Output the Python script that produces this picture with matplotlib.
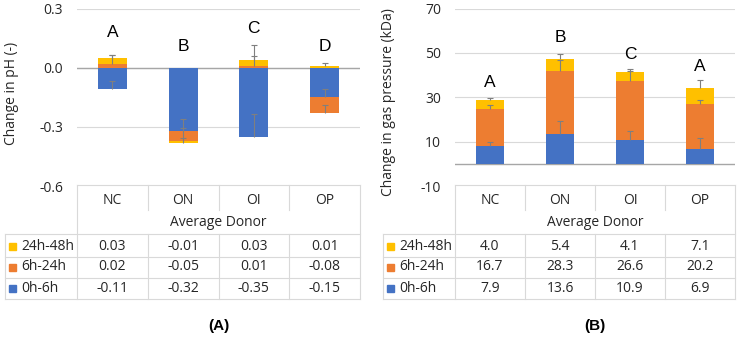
import matplotlib.pyplot as plt
import numpy as np

donors = ["NC", "ON", "OI", "OP"]
periods = ["24h-48h", "6h-24h", "0h-6h"]
period_colors = ["#FFC000", "#ED7D31", "#4472C4"]

# pH change per period (A)
ph_0_6 = [-0.11, -0.32, -0.35, -0.15]
ph_6_24 = [0.02, -0.05, 0.01, -0.08]
ph_24_48 = [0.03, -0.01, 0.03, 0.01]
ph_err_0_6 = [0.044, 0.061, 0.115, 0.043]
ph_err_6_24 = [0.045, 0.065, 0.047, 0.042]
ph_err_24_48 = [0.015, 0.024, 0.075, 0.014]
ph_letters = ["A", "B", "C", "D"]
ph_letter_y = [0.178, 0.107, 0.198, 0.107]

# gas pressure change per period (B)
gas_0_6 = [7.9, 13.6, 10.9, 6.9]
gas_6_24 = [16.7, 28.3, 26.6, 20.2]
gas_24_48 = [4.0, 5.4, 4.1, 7.1]
gas_err_0_6 = [2.1, 5.7, 4.0, 4.9]
gas_err_6_24 = [1.7, 4.8, 4.3, 1.8]
gas_err_24_48 = [0.9, 2.3, 1.3, 3.5]
gas_letters = ["A", "B", "C", "A"]
gas_letter_y = [36.8, 56.8, 49.2, 43.9]

W, H = 738, 337
fig = plt.figure(figsize=(W / 100, H / 100), dpi=100)
plt.rcParams["font.family"] = ["Open Sans", "DejaVu Sans"]

ov = fig.add_axes([0, 0, 1, 1])
ov.set_xlim(0, W)
ov.set_ylim(H, 0)
ov.axis("off")

grid_c = "#D9D9D9"
txt_c = "#262626"
fs = 10


def panel(x0, x1, leg_x, ylim, ticks, fmt, tfmt, series, errs, letters, letter_y,
          ylabel, ylab_x, ylab_y, tag):
    y_top, y_bot = 8.5, 186
    ax = fig.add_axes([x0 / W, 1 - y_bot / H, (x1 - x0) / W, (y_bot - y_top) / H])
    ax.set_xlim(-0.5, 3.5)
    ax.set_ylim(*ylim)
    ax.set_yticks(ticks)
    ax.set_yticklabels([tfmt.format(t) for t in ticks], fontsize=fs, color=txt_c)
    ax.tick_params(axis="y", length=0, pad=10)
    ax.set_xticks([])
    for s in ax.spines.values():
        s.set_visible(False)
    ax.yaxis.grid(True, color=grid_c, lw=0.8)
    ax.set_axisbelow(True)
    ax.axhline(0, color="#A6A6A6", lw=1, zorder=2)
    ax.patch.set_alpha(0)

    x = np.arange(len(donors))
    pos = np.zeros(4)
    neg = np.zeros(4)
    ends = []
    # series given as [0h-6h, 6h-24h, 24h-48h]
    for vals, col in zip(series, period_colors[::-1]):
        v = np.array(vals)
        bottom = np.where(v >= 0, pos, neg)
        ax.bar(x, v, 0.41, bottom=bottom, color=col, zorder=3)
        end = bottom + v
        pos = np.where(v >= 0, end, pos)
        neg = np.where(v < 0, end, neg)
        ends.append(end)
    # plus-only error bars: stem + top cap
    for end, e in zip(ends, errs):
        top = end + np.array(e)
        ax.vlines(x, end, top, color="#7F7F7F", lw=0.8, zorder=5)
        ax.plot(x, top, ls="none", marker="_", ms=4, mew=0.8, color="#7F7F7F",
                zorder=5)
    for xi, l, ly in zip(x, letters, letter_y):
        ax.text(xi, ly, l, ha="center", va="center", fontsize=12.5,
                family="Liberation Sans", color="black")

    ov.text(ylab_x, ylab_y, ylabel, rotation=90, ha="center", va="center",
            fontsize=fs, color=txt_c)

    # data table under the chart
    cw = (x1 - x0) / 4
    cols = [x0 + i * cw for i in range(5)]
    r_top = 185
    kw = dict(color=grid_c, lw=0.8)
    ov.plot([x0, x1], [r_top, r_top], **kw)
    for yy in [234, 257, 278, 299]:
        ov.plot([leg_x, x1], [yy, yy], **kw)
    ov.plot([leg_x, leg_x], [234, 299], **kw)
    ov.plot([x0, x0], [r_top, 299], **kw)
    ov.plot([x1, x1], [r_top, 299], **kw)
    for c in cols[1:4]:
        ov.plot([c, c], [r_top, 210], **kw)
        ov.plot([c, c], [234, 299], **kw)
    for i, d in enumerate(donors):
        ov.text((cols[i] + cols[i + 1]) / 2, 200, d, ha="center", va="center",
                fontsize=fs, color=txt_c)
    ov.text((x0 + x1) / 2, 223, "Average Donor", ha="center", va="center",
            fontsize=fs, color=txt_c)
    rows_y = [246, 267, 288]
    for name, col, vals, ry in zip(periods, period_colors, series[::-1], rows_y):
        ov.add_patch(plt.Rectangle((leg_x + 4, ry - 3.5), 7, 7, color=col))
        ov.text(leg_x + 16, ry, name, ha="left", va="center", fontsize=fs,
                color=txt_c)
        for i, v in enumerate(vals):
            ov.text((cols[i] + cols[i + 1]) / 2, ry, fmt.format(v), ha="center",
                    va="center", fontsize=fs, color=txt_c)
    ov.text((x0 + x1) / 2, 326, tag, ha="center", va="center",
            fontsize=11, fontweight="bold", family="Liberation Sans",
            color="black")
    return ax


panel(77, 360, 5, (-0.6, 0.3), [-0.6, -0.3, 0.0, 0.3], "{:.2f}", "{:.1f}",
      [ph_0_6, ph_6_24, ph_24_48], [ph_err_0_6, ph_err_6_24, ph_err_24_48],
      ph_letters, ph_letter_y, "Change in pH (-)", 12, 93, "(A)")
panel(455, 735, 383, (-10, 70), [-10, 10, 30, 50, 70], "{:.1f}", "{:.0f}",
      [gas_0_6, gas_6_24, gas_24_48], [gas_err_0_6, gas_err_6_24, gas_err_24_48],
      gas_letters, gas_letter_y, "Change in gas pressure (kDa)", 389, 102, "(B)")

fig.savefig("out.png", dpi=100)
